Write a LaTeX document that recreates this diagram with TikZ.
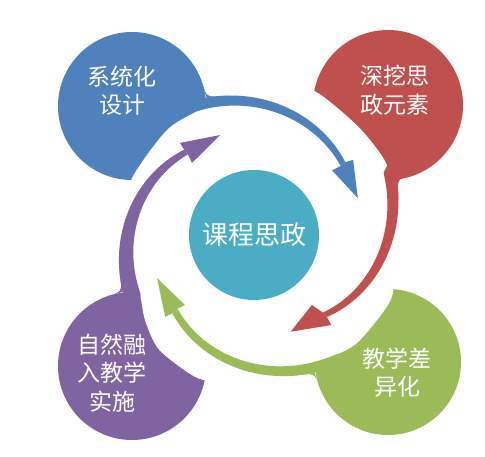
\documentclass[tikz,border=0pt]{standalone}
\usepackage{fontspec}
\newfontfamily\cjk{Noto Sans CJK SC}
\definecolor{cB}{HTML}{4F81BD}
\definecolor{cR}{HTML}{C0504D}
\definecolor{cG}{HTML}{9BBB59}
\definecolor{cP}{HTML}{8064A2}
\definecolor{cT}{HTML}{4BACC6}
\begin{document}
\begin{tikzpicture}[x=1pt,y=-1pt,
  bigdisc/.style={circle, inner sep=0pt, draw=none},
  lbl/.style={text=white, font=\cjk\fontsize{23pt}{28.5pt}\selectfont, align=center, inner sep=0pt},
  ctr/.style={text=white, font=\cjk\fontsize{26pt}{30pt}\selectfont, inner sep=0pt}]
\useasboundingbox (0,0) rectangle (485,457);
\fill[white] (0,0) rectangle (485,457);
% corner discs
\node[bigdisc, fill=cB, minimum size=148pt] (blue) at (132,106) {};
\node[bigdisc, fill=cR, minimum size=150pt] (red) at (388,105) {};
\node[bigdisc, fill=cG, minimum size=146pt] (green) at (388,362) {};
\node[bigdisc, fill=cP, minimum size=148pt] (purple) at (132,366) {};
\begin{scope}[shift={(254,236)}, y=1pt]
% white cut around the ring
\fill[white] plot[smooth cycle, tension=0.5] coordinates {
 (0:122) (12:134) (20:146) (30:151) (45:151) (60:154) (68:157) (80:156)
 (95:140) (110:136) (116:137) (130:137) (154:135) (170:133) (185:130)
 (200:128) (207:128) (218:138) (230:148) (245:152) (252:152) (262:145)
 (275:130) (290:137) (303:143.5) (314:148.5) (330:150) (338:150) (350:140)};
% blue band and head
\fill[cB] plot[domain=125:39, samples=60] (\x:{117.5+0.412*(\x-39)})
  -- plot[domain=39:116, samples=60] (\x:{111.5+0.342*(\x-39)}) -- cycle;
\fill[cB] (39:117.5) -- (37.5:125) -- (20:110.5) -- (40:102) -- (39:111.5) -- cycle;
% red band and head
\fill[cR] plot[domain=30:-48, samples=60] (\x:{109+0.644*(\x+48)})
  -- plot[domain=-48:26, samples=60] (\x:{103+0.556*(\x+48)}) -- cycle;
\fill[cR] (-48:109) -- (-49:118) -- (-69:102.5) -- (-50:90) -- (-48:103) -- cycle;
% green band and head
\fill[cG] plot[domain=305:223.5, samples=60] (\x:{112.5+0.526*(\x-223.5)})
  -- plot[domain=223.5:305, samples=60] (\x:{105.5+0.474*(\x-223.5)}) -- cycle;
\fill[cG] (223.5:112.5) -- (222.3:120) -- (203.4:105.7) -- (225:97.6) -- (223.5:105.5) -- cycle;
% purple band and head
\fill[cP] plot[domain=218:129, samples=60] (\x:{111+0.429*(\x-129)})
  -- plot[domain=129:207, samples=60] (\x:{105+0.286*(\x-129)}) -- cycle;
\fill[cP] (129:111) -- (128.5:119) -- (108.6:106.5) -- (130.3:95.8) -- (129:105) -- cycle;
\end{scope}
% fillets where each band leaves its disc
\fill[cB] (202.4,83.1) .. controls (206.4,97.7) .. (229.2,95.6) -- (206.4,97.7) -- cycle;
\fill[cR] (413.7,175.5) .. controls (396.9,178.3) .. (398.6,200) -- (396.9,178.3) -- cycle;
\fill[cG] (319.4,387) .. controls (314.8,372.7) .. (291.5,375.9) -- (314.8,372.7) -- cycle;
\fill[cP] (106.7,296.5) .. controls (122.6,291.8) .. (119.5,272.1) -- (122.6,291.8) -- cycle;
% centre
\node[bigdisc, fill=cT, minimum size=130pt] (core) at (254,235) {};
\node[ctr] (coretext) at (254,235) {课程思政};
% labels
\node[lbl] (tblue) at (122,91) {系统化\\设计};
\node[lbl] (tred) at (395,90) {深挖思\\政元素};
\node[lbl] (tgreen) at (397,372.5) {教学差\\异化};
\node[lbl] (tpurple) at (112,373) {自然融\\入教学\\实施};
\end{tikzpicture}
\end{document}
